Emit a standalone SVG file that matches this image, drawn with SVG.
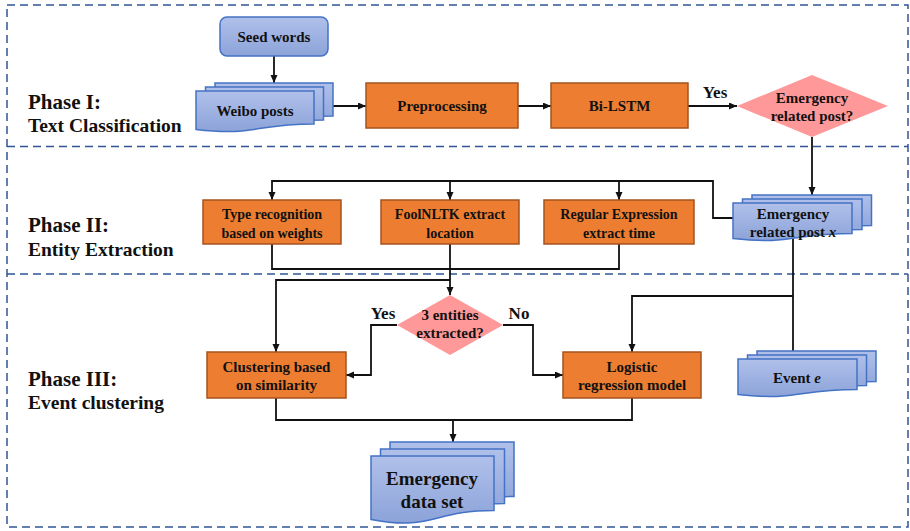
<svg xmlns="http://www.w3.org/2000/svg" width="910" height="531" viewBox="0 0 910 531">
<style>
text{font-family:"Liberation Serif","Times New Roman",serif;font-weight:bold;fill:#111;text-anchor:middle}
.ph{font-size:21px;text-anchor:start}
.sub{font-size:19.5px;text-anchor:start}
.t15{font-size:15px}
.t14{font-size:14px}
.t17{font-size:17px}
.t19{font-size:19px}
.frame{fill:none;stroke:#2F5597;stroke-width:1.5;stroke-dasharray:8 5}
.box{fill:#ED7D31;stroke:#A4531E;stroke-width:1.5}
.doc{fill:url(#blue);stroke:#4472C4;stroke-width:1.5}
.dia{fill:#FF9999}
.ln{fill:none;stroke:#111;stroke-width:1.8}
.ar{marker-end:url(#arr)}
</style>
<defs>
<linearGradient id="blue" x1="0" y1="0" x2="0" y2="1">
<stop offset="0" stop-color="#B0C0EA"/>
<stop offset="1" stop-color="#8CA3D9"/>
</linearGradient>
<marker id="arr" markerUnits="userSpaceOnUse" markerWidth="9" markerHeight="8" refX="8" refY="3.5" orient="auto">
<path d="M0,0 L8,3.5 L0,7 z" fill="#111"/>
</marker>
</defs>
<rect width="910" height="531" fill="#fff"/>

<g id="frame">
<rect class="frame" x="7" y="5" width="901" height="522"/>
<line class="frame" x1="7" y1="146.5" x2="908" y2="146.5"/>
<line class="frame" x1="7" y1="274" x2="908" y2="274"/>
</g>

<g id="phase1-label">
<text class="ph" x="28" y="109">Phase I:</text>
<text class="sub" x="28" y="132">Text Classification</text>
</g>
<g id="phase2-label">
<text class="ph" x="28" y="232">Phase II:</text>
<text class="sub" x="28" y="256">Entity Extraction</text>
</g>
<g id="phase3-label">
<text class="ph" x="28" y="386">Phase III:</text>
<text class="sub" x="28" y="409">Event clustering</text>
</g>

<g id="connectors">
<path class="ln ar" d="M274 56 V83"/>
<path class="ln ar" d="M333 106 H366"/>
<path class="ln ar" d="M518 106 H551"/>
<path class="ln ar" d="M688 106 H737"/>
<path class="ln ar" d="M812 137 V195"/>
<path class="ln ar" d="M733 218 H713 V181 H272 V200"/>
<path class="ln ar" d="M450 181 V200"/>
<path class="ln ar" d="M619 181 V200"/>
<path class="ln" d="M272 244 V269 H619 V244"/>
<path class="ln ar" d="M450 244 V295"/>
<path class="ln ar" d="M450 280 H276 V352"/>
<path class="ln ar" d="M397 325 H371 V375 H346"/>
<path class="ln ar" d="M503 325 H533 V375 H563"/>
<path class="ln" d="M793 239 V352"/>
<path class="ln ar" d="M793 296 H632 V352"/>
<path class="ln" d="M276 398 V420 H632 V398"/>
<path class="ln ar" d="M453 420 V442"/>
<text class="t17" x="715" y="98">Yes</text>
<text class="t17" x="383" y="319">Yes</text>
<text class="t17" x="519" y="319">No</text>
</g>

<g id="seed-words">
<rect class="doc" x="220" y="17" width="108" height="39" rx="7"/>
<text class="t15" x="274" y="42">Seed words</text>
</g>

<g id="weibo-posts">
<path class="doc" d="M215 83 H333 V116 C274 116 274 128.4 215 121.4 Z"/>
<path class="doc" d="M205.5 87 H323.5 V120 C264.5 120 264.5 132.4 205.5 125.4 Z"/>
<path class="doc" d="M196 91 H314 V124 C255 124 255 136.4 196 129.4 Z"/>
<text class="t15" x="255" y="116">Weibo posts</text>
</g>

<g id="preprocessing">
<rect class="box" x="366" y="83" width="152" height="45"/>
<text class="t15" x="442" y="111">Preprocessing</text>
</g>

<g id="bi-lstm">
<rect class="box" x="551" y="83" width="137" height="45"/>
<text class="t15" x="619.5" y="111">Bi-LSTM</text>
</g>

<g id="emergency-decision">
<polygon class="dia" points="737,106 812,75 888,106 812,137"/>
<text class="t15" x="812" y="103">Emergency</text>
<text class="t15" x="812" y="121">related post?</text>
</g>

<g id="emergency-post-x">
<path class="doc" d="M752 195 H871.5 V225.4 C811.75 225.4 811.75 237.1 752 230.5 Z"/>
<path class="doc" d="M742.5 199 H862 V229.4 C802.25 229.4 802.25 241.1 742.5 234.5 Z"/>
<path class="doc" d="M733 203 H852 V233.4 C792.5 233.4 792.5 245.1 733 238.5 Z"/>
<text class="t15" x="793" y="219">Emergency</text>
<text class="t15" x="793" y="237">related post <tspan font-style="italic">x</tspan></text>
</g>

<g id="type-recognition">
<rect class="box" x="203" y="200" width="138" height="44"/>
<text class="t14" x="272" y="219">Type recognition</text>
<text class="t14" x="272" y="238">based on weights</text>
</g>

<g id="foolnltk">
<rect class="box" x="381" y="200" width="138" height="44"/>
<text class="t14" x="450" y="219">FoolNLTK extract</text>
<text class="t14" x="450" y="238">location</text>
</g>

<g id="regular-expression">
<rect class="box" x="544" y="200" width="150" height="44"/>
<text class="t14" x="619" y="219">Regular Expression</text>
<text class="t14" x="619" y="238">extract time</text>
</g>

<g id="entities-decision">
<polygon class="dia" points="397,325 450,295 503,325 450,355"/>
<text class="t15" x="450" y="320">3 entities</text>
<text class="t15" x="450" y="338">extracted?</text>
</g>

<g id="clustering">
<rect class="box" x="207" y="352" width="139" height="46"/>
<text class="t15" x="276.5" y="372">Clustering based</text>
<text class="t15" x="276.5" y="390">on similarity</text>
</g>

<g id="logistic">
<rect class="box" x="563" y="352" width="138" height="46"/>
<text class="t15" x="632" y="372">Logistic</text>
<text class="t15" x="632" y="390">regression model</text>
</g>

<g id="event-e">
<path class="doc" d="M757 351 H876 V381.4 C816.5 381.4 816.5 393.1 757 386.5 Z"/>
<path class="doc" d="M747.5 355 H866.5 V385.4 C807 385.4 807 397.1 747.5 390.5 Z"/>
<path class="doc" d="M738 359 H857 V389.4 C797.5 389.4 797.5 401.1 738 394.5 Z"/>
<text class="t15" x="797" y="383">Event <tspan font-style="italic">e</tspan></text>
</g>

<g id="emergency-data-set">
<path class="doc" d="M390 442 H514 V496.4 C452 496.4 452 517.3 390 505.5 Z"/>
<path class="doc" d="M380.5 449 H504.5 V503.4 C442.5 503.4 442.5 524.3 380.5 512.5 Z"/>
<path class="doc" d="M371 456 H494 V510.4 C432.5 510.4 432.5 531.3 371 519.5 Z"/>
<text class="t19" x="432" y="485">Emergency</text>
<text class="t19" x="432" y="508">data set</text>
</g>
</svg>
